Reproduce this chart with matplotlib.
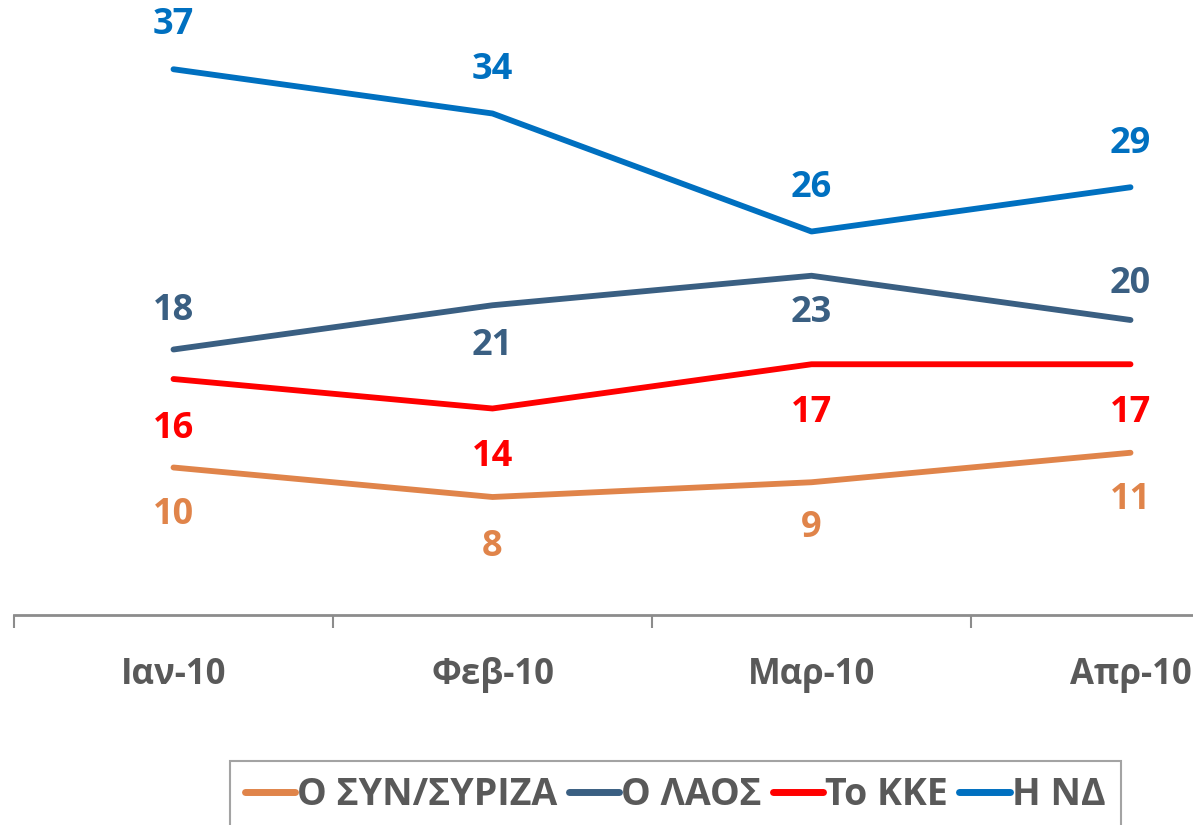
import matplotlib.pyplot as plt
from matplotlib import font_manager

months = ["Ιαν-10", "Φεβ-10", "Μαρ-10", "Απρ-10"]
seriesNames = ["Ο ΣΥΝ/ΣΥΡΙΖΑ", "Ο ΛΑΟΣ", "Το ΚΚΕ", "Η ΝΔ"]
syriza = [10, 8, 9, 11]
laos = [18, 21, 23, 20]
kke = [16, 14, 17, 17]
nd = [37, 34, 26, 29]

colors = ["#E0844A", "#3A5F82", "#FF0000", "#0070C0"]
# label offset (points) per point: + above, - below
labelOffsets = [
    [-34, -36, -33, -34],
    [28, -29, -27, 26],
    [-36, -35, -35, -35],
    [32, 31, 31, 31],
]

names = {f.name for f in font_manager.fontManager.ttflist}
labelFont = "Open Sans" if "Open Sans" in names else "DejaVu Sans"
legendFont = "Liberation Sans Narrow" if "Liberation Sans Narrow" in names else labelFont

fig = plt.figure(figsize=(11.93, 8.25), dpi=100)
ax = fig.add_axes([14 / 1193, 210 / 825, 1 - 14 / 1193, 615 / 825])

allSeries = [syriza, laos, kke, nd]
x = list(range(len(months)))
lines = []
for values, name, color, offs in zip(allSeries, seriesNames, colors, labelOffsets):
    line, = ax.plot(x, values, color=color, lw=4.2, solid_capstyle="round",
                    solid_joinstyle="round", label=name, clip_on=False)
    lines.append(line)
    for xi, v, off in zip(x, values, offs):
        ax.annotate(str(v), (xi, v), xytext=(0, off), textcoords="offset points",
                    ha="center", va="center", fontsize=26, fontweight="bold",
                    color=color, family=labelFont)

ax.set_xlim(-0.5, -0.5 + 1179 / 319)
ax.set_ylim(0, 615 / 14.75)
ax.set_xticks(x)
ax.set_xticklabels(months, fontsize=25, fontweight="bold", color="#595959", family=labelFont)
ax.set_xticks([-0.5, 0.5, 1.5, 2.5], minor=True)
ax.tick_params(axis="x", which="major", length=0, pad=30)
ax.tick_params(axis="x", which="minor", length=9, width=1.5, color="#8C8C8C")
ax.set_yticks([])
for side in ["top", "right", "left"]:
    ax.spines[side].set_visible(False)
ax.spines["bottom"].set_color("#8C8C8C")
ax.spines["bottom"].set_linewidth(2)

leg = fig.legend(handles=lines, loc="upper center", bbox_to_anchor=(675 / 1193, 1 - 761 / 825),
                 ncol=4, frameon=True, fancybox=False, handlelength=1.35, handletextpad=0.05,
                 columnspacing=0.3, borderpad=0.4, borderaxespad=0,
                 prop={"family": legendFont, "size": 27, "weight": "bold"})
leg.get_frame().set_edgecolor("#8C8C8C")
leg.get_frame().set_linewidth(1.5)
for t in leg.get_texts():
    t.set_color("#595959")
for h in leg.legend_handles:
    h.set_linewidth(5)

fig.savefig("out.png", dpi=100)
